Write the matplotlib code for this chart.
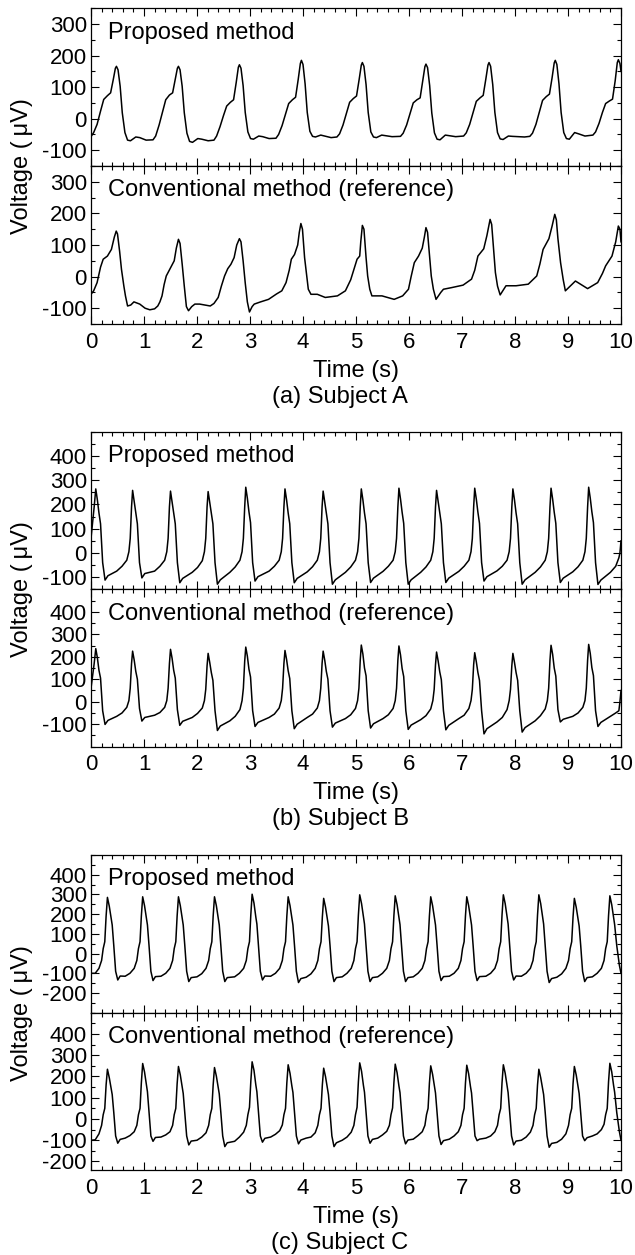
import matplotlib
matplotlib.use('Agg')
import matplotlib.pyplot as plt
from matplotlib.ticker import MultipleLocator, FixedLocator

plt.rcParams['font.family'] = ['Liberation Sans', 'DejaVu Sans']
plt.rcParams['axes.unicode_minus'] = False

# ---------------- data (time s, voltage uV) ----------------
a_proposed = [
    (0.00, -57), (0.05, -44), (0.115, -18), (0.18, 24), (0.24, 61), (0.31, 73), (0.37, 82), (0.42, 124), (0.46, 160), (0.48, 166), (0.51, 155), (0.55, 103), (0.59, 19), (0.64, -44), (0.69, -68), (0.745, -70), (0.845, -58), (0.92, -60), (1.04, -68),
    (1.17, -67), (1.22, -55), (1.285, -20), (1.35, 22), (1.41, 60), (1.48, 75), (1.54, 82), (1.59, 125), (1.63, 160), (1.65, 166), (1.68, 155), (1.72, 103), (1.76, 19), (1.81, -46), (1.86, -72), (1.915, -75), (2.015, -63), (2.09, -65), (2.21, -70),
    (2.32, -68), (2.37, -55), (2.435, -25), (2.50, 10), (2.56, 40), (2.63, 52), (2.69, 60), (2.74, 115), (2.78, 163), (2.80, 171), (2.83, 160), (2.87, 105), (2.91, 20), (2.96, -42), (3.01, -63), (3.065, -65), (3.165, -55), (3.24, -57), (3.36, -63),
    (3.49, -62), (3.54, -50), (3.605, -22), (3.67, 15), (3.73, 48), (3.80, 60), (3.86, 68), (3.91, 125), (3.95, 175), (3.97, 185), (4.00, 172), (4.04, 110), (4.08, 20), (4.13, -40), (4.18, -56), (4.235, -58), (4.335, -52), (4.41, -55), (4.53, -60),
    (4.64, -58), (4.69, -48), (4.755, -20), (4.82, 18), (4.88, 52), (4.95, 64), (5.01, 72), (5.06, 125), (5.10, 170), (5.12, 178), (5.15, 166), (5.19, 108), (5.23, 20), (5.28, -42), (5.33, -58), (5.385, -60), (5.485, -52), (5.56, -54), (5.68, -57),
    (5.84, -56), (5.89, -46), (5.955, -20), (6.02, 16), (6.08, 50), (6.15, 60), (6.21, 66), (6.26, 122), (6.30, 165), (6.32, 173), (6.35, 162), (6.39, 105), (6.43, 18), (6.48, -45), (6.53, -65), (6.585, -67), (6.685, -52), (6.76, -54), (6.88, -57),
    (7.03, -55), (7.08, -45), (7.145, -18), (7.21, 20), (7.27, 55), (7.34, 66), (7.40, 74), (7.45, 126), (7.49, 170), (7.51, 178), (7.54, 166), (7.58, 108), (7.62, 20), (7.67, -44), (7.72, -64), (7.775, -66), (7.875, -55), (7.95, -56), (8.07, -57), (8.18, -58),
    (8.28, -56), (8.33, -46), (8.395, -18), (8.46, 22), (8.52, 58), (8.59, 70), (8.65, 78), (8.70, 130), (8.74, 177), (8.76, 185), (8.79, 172), (8.83, 110), (8.87, 20), (8.92, -44), (8.97, -63), (9.025, -65), (9.125, -44), (9.20, -48), (9.32, -55),
    (9.47, -52), (9.52, -42), (9.585, -15), (9.65, 20), (9.71, 48), (9.78, 56), (9.84, 62), (9.89, 120), (9.93, 178), (9.95, 187), (9.98, 175), (10.0, 150),
]

a_conventional = [
    (0.00, -56), (0.05, -45), (0.115, -19), (0.18, 30), (0.23, 55), (0.31, 65), (0.385, 86), (0.44, 125), (0.476, 144), (0.50, 135), (0.54, 80), (0.575, 23), (0.62, -30), (0.65, -61), (0.69, -93), (0.75, -90), (0.81, -80), (0.92, -87), (1.02, -100), (1.11, -105), (1.20, -102), (1.26, -93), (1.30, -80), (1.34, -61), (1.38, -25), (1.42, 2), (1.50, 28), (1.57, 50), (1.61, 90), (1.65, 118),
    (1.68, 105), (1.72, 40), (1.76, -30), (1.80, -95), (1.84, -108), (1.90, -95), (1.96, -87), (2.05, -87), (2.15, -90), (2.25, -93), (2.32, -85), (2.40, -66), (2.46, -30), (2.52, 2), (2.58, 25), (2.64, 39), (2.70, 60), (2.75, 100), (2.80, 120),
    (2.83, 110), (2.87, 50), (2.91, -20), (2.95, -80), (2.99, -112), (3.04, -95), (3.08, -87), (3.20, -80), (3.35, -72), (3.50, -55), (3.60, -45), (3.68, -19), (3.74, 20), (3.78, 55), (3.84, 70), (3.90, 100), (3.93, 140), (3.96, 168),
    (3.99, 150), (4.03, 60), (4.07, 2), (4.10, -40), (4.15, -56), (4.27, -56), (4.42, -66), (4.65, -61), (4.80, -45), (4.90, -10), (4.97, 28), (5.02, 55), (5.07, 65), (5.09, 110), (5.12, 162),
    (5.15, 150), (5.19, 60), (5.22, 2), (5.26, -40), (5.30, -61), (5.49, -61), (5.72, -72), (5.88, -61), (5.99, -40), (6.04, 0), (6.10, 44), (6.18, 65), (6.25, 90), (6.29, 125), (6.32, 155),
    (6.35, 140), (6.38, 80), (6.42, 2), (6.46, -40), (6.51, -72), (6.60, -50), (6.65, -40), (6.80, -35), (7.02, -27), (7.18, -8), (7.24, 20), (7.30, 65), (7.41, 88), (7.47, 130), (7.53, 181),
    (7.56, 165), (7.60, 80), (7.63, 13), (7.67, -30), (7.72, -58), (7.83, -29), (8.02, -29), (8.25, -24), (8.41, 2), (8.47, 40), (8.53, 86), (8.64, 120), (8.70, 160), (8.75, 197),
    (8.78, 180), (8.81, 120), (8.86, 44), (8.91, -10), (8.95, -45), (9.14, -14), (9.37, -38), (9.56, -19), (9.65, 10), (9.71, 34), (9.83, 65), (9.90, 110), (9.95, 160), (9.98, 150), (10.0, 110),
]

b_proposed = [
    (0.00, 60), (0.06, 190), (0.09, 264), (0.12, 219), (0.15, 165), (0.18, 120), (0.22, -40), (0.265, -112), (0.32, -94),
    (0.485, -75), (0.585, -55), (0.675, -30), (0.715, 5), (0.74, 60), (0.765, 190), (0.785, 258), (0.815, 213), (0.845, 165), (0.875, 120), (0.915, -40), (0.96, -103), (1.015, -85),
    (1.20, -75), (1.30, -55), (1.39, -30), (1.43, 5), (1.455, 60), (1.48, 190), (1.50, 255), (1.53, 210), (1.56, 165), (1.59, 120), (1.63, -40), (1.675, -123), (1.73, -105),
    (1.91, -80), (2.01, -60), (2.10, -32), (2.14, 5), (2.165, 60), (2.19, 190), (2.21, 253), (2.24, 208), (2.27, 165), (2.30, 120), (2.34, -40), (2.385, -129), (2.44, -111),
    (2.62, -80), (2.72, -58), (2.81, -30), (2.85, 5), (2.875, 60), (2.90, 190), (2.92, 271), (2.95, 226), (2.98, 170), (3.01, 125), (3.05, -40), (3.095, -116), (3.15, -98),
    (3.36, -75), (3.46, -55), (3.55, -30), (3.59, 5), (3.615, 60), (3.64, 190), (3.66, 264), (3.69, 219), (3.72, 165), (3.75, 120), (3.79, -40), (3.835, -123), (3.89, -105),
    (4.08, -78), (4.18, -57), (4.27, -30), (4.31, 5), (4.335, 60), (4.36, 190), (4.38, 255), (4.41, 210), (4.44, 165), (4.47, 120), (4.51, -40), (4.555, -129), (4.61, -111),
    (4.80, -80), (4.90, -58), (4.99, -30), (5.03, 5), (5.055, 60), (5.08, 190), (5.10, 264), (5.13, 219), (5.16, 165), (5.19, 120), (5.23, -40), (5.275, -122), (5.33, -104),
    (5.51, -76), (5.61, -55), (5.70, -30), (5.74, 5), (5.765, 60), (5.79, 190), (5.81, 267), (5.84, 222), (5.87, 168), (5.90, 122), (5.94, -40), (5.985, -129), (6.04, -111),
    (6.22, -80), (6.32, -58), (6.41, -30), (6.45, 5), (6.475, 60), (6.50, 190), (6.52, 258), (6.55, 213), (6.58, 165), (6.61, 120), (6.65, -40), (6.695, -122), (6.75, -104),
    (6.94, -76), (7.04, -55), (7.13, -30), (7.17, 5), (7.195, 60), (7.22, 190), (7.24, 267), (7.27, 222), (7.30, 168), (7.33, 122), (7.37, -40), (7.415, -116), (7.47, -98),
    (7.66, -74), (7.76, -55), (7.85, -30), (7.89, 5), (7.915, 60), (7.94, 190), (7.96, 264), (7.99, 219), (8.02, 165), (8.05, 120), (8.09, -40), (8.135, -129), (8.19, -111),
    (8.38, -80), (8.48, -58), (8.57, -30), (8.61, 5), (8.635, 60), (8.66, 190), (8.68, 267), (8.71, 222), (8.74, 168), (8.77, 122), (8.81, -40), (8.855, -122), (8.91, -104),
    (9.09, -78), (9.19, -57), (9.28, -30), (9.32, 5), (9.345, 60), (9.37, 190), (9.39, 271), (9.42, 226), (9.45, 170), (9.48, 125), (9.52, -40), (9.565, -130), (9.62, -112),
    (9.80, -80), (9.90, -55), (9.96, -20), (9.98, 0), (10.0, 50),
]

b_conventional = [
    (0.00, 60), (0.06, 170), (0.09, 236), (0.12, 196), (0.15, 140), (0.18, 105), (0.22, -40), (0.265, -101), (0.32, -83),
    (0.485, -65), (0.585, -50), (0.675, -25), (0.715, 5), (0.74, 60), (0.765, 170), (0.785, 225), (0.815, 185), (0.845, 135), (0.875, 100), (0.915, -30), (0.96, -86), (1.015, -70),
    (1.20, -60), (1.30, -48), (1.39, -25), (1.43, 5), (1.455, 60), (1.48, 170), (1.50, 233), (1.53, 193), (1.56, 140), (1.59, 105), (1.63, -35), (1.675, -105), (1.73, -87),
    (1.91, -70), (2.01, -52), (2.10, -28), (2.14, 5), (2.165, 55), (2.19, 160), (2.21, 215), (2.24, 175), (2.27, 130), (2.30, 95), (2.34, -40), (2.385, -128), (2.44, -108),
    (2.62, -85), (2.72, -65), (2.81, -35), (2.85, 5), (2.875, 60), (2.90, 180), (2.92, 243), (2.95, 203), (2.98, 145), (3.01, 110), (3.05, -40), (3.095, -110), (3.15, -92),
    (3.36, -70), (3.46, -55), (3.55, -28), (3.59, 5), (3.615, 60), (3.64, 170), (3.66, 228), (3.69, 188), (3.72, 138), (3.75, 103), (3.79, -40), (3.835, -120), (3.89, -100),
    (4.08, -70), (4.18, -55), (4.27, -28), (4.31, 5), (4.335, 60), (4.36, 170), (4.38, 225), (4.41, 185), (4.44, 135), (4.47, 100), (4.51, -40), (4.555, -113), (4.61, -95),
    (4.80, -75), (4.90, -58), (4.99, -30), (5.03, 5), (5.055, 60), (5.08, 185), (5.10, 252), (5.13, 212), (5.16, 150), (5.19, 115), (5.23, -40), (5.275, -117), (5.33, -98),
    (5.51, -75), (5.61, -58), (5.70, -30), (5.74, 5), (5.765, 60), (5.79, 185), (5.81, 248), (5.84, 208), (5.87, 148), (5.90, 112), (5.94, -40), (5.985, -123), (6.04, -104),
    (6.22, -80), (6.32, -62), (6.41, -32), (6.45, 5), (6.475, 55), (6.50, 165), (6.52, 221), (6.55, 181), (6.58, 133), (6.61, 98), (6.65, -40), (6.695, -125), (6.75, -105),
    (6.94, -75), (7.04, -60), (7.13, -30), (7.17, 5), (7.195, 55), (7.22, 165), (7.24, 218), (7.27, 178), (7.30, 130), (7.33, 95), (7.37, -40), (7.415, -143), (7.47, -120),
    (7.66, -90), (7.76, -70), (7.85, -35), (7.89, 5), (7.915, 55), (7.94, 160), (7.96, 215), (7.99, 175), (8.02, 130), (8.05, 95), (8.09, -40), (8.135, -135), (8.19, -115),
    (8.38, -85), (8.48, -62), (8.57, -32), (8.61, 5), (8.635, 60), (8.66, 185), (8.68, 251), (8.71, 211), (8.74, 150), (8.77, 114), (8.81, -35), (8.855, -90), (8.91, -78),
    (9.09, -65), (9.19, -50), (9.28, -25), (9.32, 5), (9.345, 60), (9.37, 185), (9.39, 255), (9.42, 215), (9.45, 152), (9.48, 116), (9.52, -40), (9.565, -110), (9.62, -92),
    (9.80, -65), (9.90, -50), (9.96, -40), (9.98, 0), (10.0, 50),
]

c_proposed = [
    (0.00, -100), (0.08, -100), (0.15, -75), (0.20, -35), (0.23, 25), (0.26, 60), (0.285, 190), (0.31, 285), (0.345, 240), (0.38, 180), (0.40, 145), (0.43, 40), (0.465, -90), (0.505, -134), (0.55, -114),
    (0.645, -115), (0.735, -100), (0.815, -75), (0.865, -35), (0.895, 25), (0.925, 60), (0.95, 190), (0.975, 288), (1.01, 243), (1.045, 180), (1.065, 145), (1.095, 40), (1.13, -90), (1.17, -137), (1.215, -117),
    (1.32, -115), (1.41, -100), (1.49, -75), (1.54, -35), (1.57, 25), (1.60, 60), (1.625, 190), (1.65, 288), (1.685, 243), (1.72, 180), (1.74, 145), (1.77, 40), (1.805, -90), (1.845, -142), (1.89, -122),
    (2.00, -118), (2.09, -102), (2.17, -75), (2.22, -35), (2.25, 25), (2.28, 60), (2.305, 190), (2.33, 288), (2.365, 243), (2.40, 180), (2.42, 145), (2.45, 40), (2.485, -90), (2.525, -142), (2.57, -122),
    (2.71, -118), (2.80, -100), (2.88, -75), (2.93, -35), (2.96, 25), (2.99, 60), (3.015, 195), (3.04, 301), (3.075, 256), (3.11, 185), (3.13, 150), (3.16, 40), (3.195, -90), (3.235, -134), (3.28, -114),
    (3.39, -115), (3.48, -100), (3.56, -75), (3.61, -35), (3.64, 25), (3.67, 60), (3.695, 190), (3.72, 288), (3.755, 243), (3.79, 180), (3.81, 145), (3.84, 40), (3.875, -90), (3.915, -147), (3.96, -127),
    (4.06, -120), (4.15, -103), (4.23, -75), (4.28, -35), (4.31, 25), (4.34, 60), (4.365, 185), (4.39, 280), (4.425, 235), (4.46, 175), (4.48, 140), (4.51, 40), (4.545, -90), (4.585, -142), (4.63, -122),
    (4.74, -118), (4.83, -100), (4.91, -75), (4.96, -35), (4.99, 25), (5.02, 60), (5.045, 195), (5.07, 298), (5.105, 253), (5.14, 185), (5.16, 150), (5.19, 40), (5.225, -90), (5.265, -142), (5.31, -122),
    (5.41, -118), (5.50, -100), (5.58, -75), (5.63, -35), (5.66, 25), (5.69, 60), (5.715, 192), (5.74, 293), (5.775, 248), (5.81, 182), (5.83, 147), (5.86, 40), (5.895, -90), (5.935, -142), (5.98, -122),
    (6.08, -118), (6.17, -100), (6.25, -75), (6.30, -35), (6.33, 25), (6.36, 60), (6.385, 190), (6.41, 288), (6.445, 243), (6.48, 180), (6.50, 145), (6.53, 40), (6.565, -90), (6.605, -137), (6.65, -117),
    (6.76, -115), (6.85, -100), (6.93, -75), (6.98, -35), (7.01, 25), (7.04, 60), (7.065, 190), (7.09, 288), (7.125, 243), (7.16, 180), (7.18, 145), (7.21, 40), (7.245, -90), (7.285, -137), (7.33, -117),
    (7.45, -115), (7.54, -100), (7.62, -75), (7.67, -35), (7.70, 25), (7.73, 60), (7.755, 195), (7.78, 298), (7.815, 253), (7.85, 185), (7.87, 150), (7.90, 40), (7.935, -90), (7.975, -134), (8.02, -114),
    (8.12, -115), (8.21, -100), (8.29, -75), (8.34, -35), (8.37, 25), (8.40, 60), (8.425, 195), (8.45, 298), (8.485, 253), (8.52, 185), (8.54, 150), (8.57, 40), (8.605, -90), (8.645, -147), (8.69, -127),
    (8.79, -120), (8.88, -103), (8.96, -75), (9.01, -35), (9.04, 25), (9.07, 60), (9.095, 185), (9.12, 280), (9.155, 235), (9.19, 175), (9.21, 140), (9.24, 40), (9.275, -90), (9.315, -142), (9.36, -122),
    (9.46, -118), (9.55, -100), (9.63, -75), (9.68, -35), (9.71, 25), (9.74, 60), (9.765, 192), (9.79, 293), (9.825, 248), (9.86, 182), (9.88, 147), (9.92, 40), (9.97, -60), (10.0, -100),
]

c_conventional = [
    (0.00, -100), (0.08, -98), (0.15, -70), (0.20, -30), (0.23, 20), (0.26, 50), (0.285, 160), (0.31, 234), (0.345, 194), (0.38, 145), (0.40, 115), (0.43, 30), (0.465, -80), (0.505, -114), (0.55, -96),
    (0.645, -90), (0.735, -78), (0.815, -60), (0.865, -30), (0.895, 20), (0.925, 50), (0.95, 170), (0.975, 261), (1.01, 221), (1.045, 160), (1.065, 128), (1.095, 30), (1.13, -80), (1.17, -105), (1.215, -87),
    (1.32, -85), (1.41, -75), (1.49, -60), (1.54, -30), (1.57, 20), (1.60, 50), (1.625, 165), (1.65, 247), (1.685, 207), (1.72, 150), (1.74, 120), (1.77, 30), (1.805, -80), (1.845, -122), (1.89, -104),
    (2.00, -100), (2.09, -85), (2.17, -65), (2.22, -30), (2.25, 20), (2.28, 50), (2.305, 160), (2.33, 242), (2.365, 202), (2.40, 148), (2.42, 118), (2.45, 30), (2.485, -80), (2.525, -130), (2.57, -112),
    (2.71, -105), (2.80, -85), (2.88, -62), (2.93, -30), (2.96, 20), (2.99, 55), (3.015, 175), (3.04, 269), (3.075, 229), (3.11, 160), (3.13, 128), (3.16, 30), (3.195, -80), (3.235, -109), (3.28, -91),
    (3.39, -85), (3.48, -72), (3.56, -55), (3.61, -28), (3.64, 20), (3.67, 50), (3.695, 170), (3.72, 255), (3.755, 215), (3.79, 155), (3.81, 125), (3.84, 30), (3.875, -80), (3.915, -117), (3.96, -99),
    (4.06, -90), (4.15, -85), (4.23, -65), (4.28, -30), (4.31, 20), (4.34, 50), (4.365, 160), (4.39, 239), (4.425, 199), (4.46, 145), (4.48, 115), (4.51, 30), (4.545, -80), (4.585, -130), (4.63, -112),
    (4.74, -100), (4.83, -85), (4.91, -62), (4.96, -30), (4.99, 20), (5.02, 55), (5.045, 175), (5.07, 264), (5.105, 224), (5.14, 158), (5.16, 126), (5.19, 30), (5.225, -80), (5.265, -114), (5.31, -96),
    (5.41, -90), (5.50, -75), (5.58, -58), (5.63, -30), (5.66, 20), (5.69, 52), (5.715, 170), (5.74, 258), (5.775, 218), (5.81, 155), (5.83, 124), (5.86, 30), (5.895, -80), (5.935, -117), (5.98, -99),
    (6.08, -95), (6.17, -78), (6.25, -60), (6.30, -30), (6.33, 20), (6.36, 50), (6.385, 168), (6.41, 250), (6.445, 210), (6.48, 152), (6.50, 122), (6.53, 30), (6.565, -80), (6.605, -120), (6.65, -102),
    (6.76, -95), (6.85, -80), (6.93, -60), (6.98, -30), (7.01, 20), (7.04, 50), (7.065, 168), (7.09, 253), (7.125, 213), (7.16, 152), (7.18, 122), (7.21, 30), (7.245, -80), (7.285, -102), (7.33, -95),
    (7.45, -90), (7.54, -80), (7.62, -60), (7.67, -30), (7.70, 20), (7.73, 50), (7.755, 170), (7.78, 255), (7.815, 215), (7.85, 155), (7.87, 124), (7.90, 30), (7.935, -80), (7.975, -122), (8.02, -104),
    (8.12, -100), (8.21, -85), (8.29, -62), (8.34, -30), (8.37, 20), (8.40, 50), (8.425, 160), (8.45, 234), (8.485, 194), (8.52, 145), (8.54, 115), (8.57, 30), (8.605, -80), (8.645, -133), (8.69, -115),
    (8.79, -110), (8.88, -95), (8.96, -70), (9.01, -30), (9.04, 20), (9.07, 50), (9.095, 165), (9.12, 247), (9.155, 207), (9.19, 150), (9.21, 120), (9.24, 30), (9.275, -80), (9.315, -102), (9.36, -88),
    (9.46, -80), (9.55, -70), (9.63, -50), (9.68, -25), (9.71, 20), (9.74, 50), (9.765, 175), (9.79, 262), (9.825, 222), (9.86, 158), (9.88, 126), (9.92, 30), (9.97, -60), (10.0, -100),
]

panel_titles = ['Proposed method', 'Conventional method (reference)']
subject_labels = ['(a) Subject A', '(b) Subject B', '(c) Subject C']
x_ticks = [0, 1, 2, 3, 4, 5, 6, 7, 8, 9, 10]

# per subject: (proposed, conventional), y-limits, y-ticks
subjects = [
    (a_proposed, a_conventional, [(-150, 350), (-150, 350)], [[-100, 0, 100, 200, 300], [-100, 0, 100, 200, 300]]),
    (b_proposed, b_conventional, [(-150, 500), (-200, 500)], [[-100, 0, 100, 200, 300, 400], [-100, 0, 100, 200, 300, 400]]),
    (c_proposed, c_conventional, [(-300, 500), (-240, 500)], [[-200, -100, 0, 100, 200, 300, 400], [-200, -100, 0, 100, 200, 300, 400]]),
]

# ---------------- layout (pixel geometry) ----------------
W, H = 635, 1255
FS_TICK = 16
FS_TEXT = 17
fig = plt.figure(figsize=(W / 100, H / 100), dpi=100)

ax_left, ax_right = 91, 621
group_tops = [8.3, 431.7, 855.0]
group_mids = [166.0, 589.3, 1012.7]
group_bots = [324.0, 746.7, 1170.0]

def frac_rect(top, bot):
    return [ax_left / W, 1 - bot / H, (ax_right - ax_left) / W, (bot - top) / H]

for gi, (prop, conv, ylims, yticks) in enumerate(subjects):
    bounds = [(group_tops[gi], group_mids[gi]), (group_mids[gi], group_bots[gi])]
    for pi, series in enumerate((prop, conv)):
        ax = fig.add_axes(frac_rect(*bounds[pi]))
        t = [p[0] for p in series]
        v = [p[1] for p in series]
        ax.plot(t, v, color='black', lw=1.1)
        ax.set_xlim(0, 10)
        ax.set_ylim(*ylims[pi])
        ax.xaxis.set_major_locator(FixedLocator(x_ticks))
        ax.xaxis.set_minor_locator(MultipleLocator(0.2))
        ax.yaxis.set_major_locator(FixedLocator(yticks[pi]))
        ax.yaxis.set_minor_locator(MultipleLocator(50))
        ax.tick_params(which='both', direction='in', top=True, right=True,
                       width=0.8, labelsize=FS_TICK, colors='black')
        ax.tick_params(which='major', length=5.5)
        ax.tick_params(which='minor', length=2.8)
        ax.tick_params(axis='y', pad=3.0)
        ax.tick_params(axis='x', pad=5.5)
        for s in ax.spines.values():
            s.set_linewidth(0.9)
        if pi == 0:
            ax.tick_params(labelbottom=False)
        ax.text(0.032, 0.845, panel_titles[pi], transform=ax.transAxes,
                ha='left', va='center', fontsize=FS_TEXT)

    # axis label & captions
    fig.text(22 / W, 1 - group_mids[gi] / H, 'Voltage (\u2009\u03bcV)', rotation=90,
             ha='center', va='center', fontsize=FS_TEXT)
    fig.text((ax_left + ax_right) / 2 / W, 1 - (group_bots[gi] + 46.5) / H, 'Time (s)',
             ha='center', va='center', fontsize=FS_TEXT)
    fig.text(340 / W, 1 - (group_bots[gi] + 72.8) / H, subject_labels[gi],
             ha='center', va='center', fontsize=FS_TEXT)

fig.savefig('out.png', dpi=100)
